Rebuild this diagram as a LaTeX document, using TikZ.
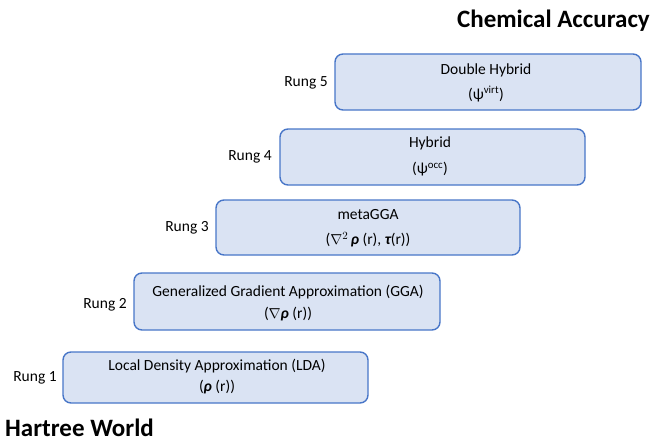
\documentclass[tikz,border=0pt]{standalone}
\usepackage{fontspec}
\setmainfont{Carlito}
\begin{document}
\begin{tikzpicture}[x=1pt,y=-1pt,
  rlab/.style={anchor=center, font=\fontsize{15.5}{18}\selectfont},
  btxt/.style={anchor=center, font=\fontsize{15.5}{18}\selectfont},
  ttl/.style={font=\bfseries\fontsize{25}{30}\selectfont}]
\useasboundingbox (0,0) rectangle (652,441);
\definecolor{boxedge}{RGB}{72,118,200}
\definecolor{boxfill}{RGB}{218,227,243}
\tikzset{rung/.style={draw=boxedge, line width=1.4pt, fill=boxfill, rounded corners=8pt}}
% boxes
\draw[rung] (335,54) rectangle (641,110);
\draw[rung] (280,129) rectangle (585,185);
\draw[rung] (216,200) rectangle (520,255);
\draw[rung] (134,273) rectangle (440,330);
\draw[rung] (63,352) rectangle (368,403);
% texts
\node[btxt] (t5a) at (486,70) {Double Hybrid};
\node[btxt] (t5b) at (486,94) {(ψ\textsuperscript{virt})};
\node[btxt] (t4a) at (430,143) {Hybrid};
\node[btxt] (t4b) at (430,169) {(ψ\textsuperscript{occ})};
\node[btxt] (t3a) at (368,215) {metaGGA};
\node[btxt] (t3b) at (368,240) {($\nabla^{2}$\,{\bfseries\itshape ρ} (r), {\bfseries\itshape τ}(r))};
\node[btxt] (t2a) at (288,292) {Generalized Gradient Approximation (GGA)};
\node[btxt] (t2b) at (288,314) {($\nabla${\bfseries\itshape ρ} (r))};
\node[btxt] (t1a) at (217,366) {Local Density Approximation (LDA)};
\node[btxt] (t1b) at (217,387) {({\bfseries\itshape ρ} (r))};
% rung labels
\node[rlab] (r5) at (306,83) {Rung 5};
\node[rlab] (r4) at (250,157) {Rung 4};
\node[rlab] (r3) at (187,228) {Rung 3};
\node[rlab] (r2) at (105,305) {Rung 2};
\node[rlab] (r1) at (35,378) {Rung 1};
% titles
\node[ttl, anchor=base east, inner sep=1pt] (top) at (651,28) {Chemical Accuracy};
\node[ttl, anchor=base west, inner sep=1pt] (bot) at (4,436) {Hartree World};
\end{tikzpicture}
\end{document}
